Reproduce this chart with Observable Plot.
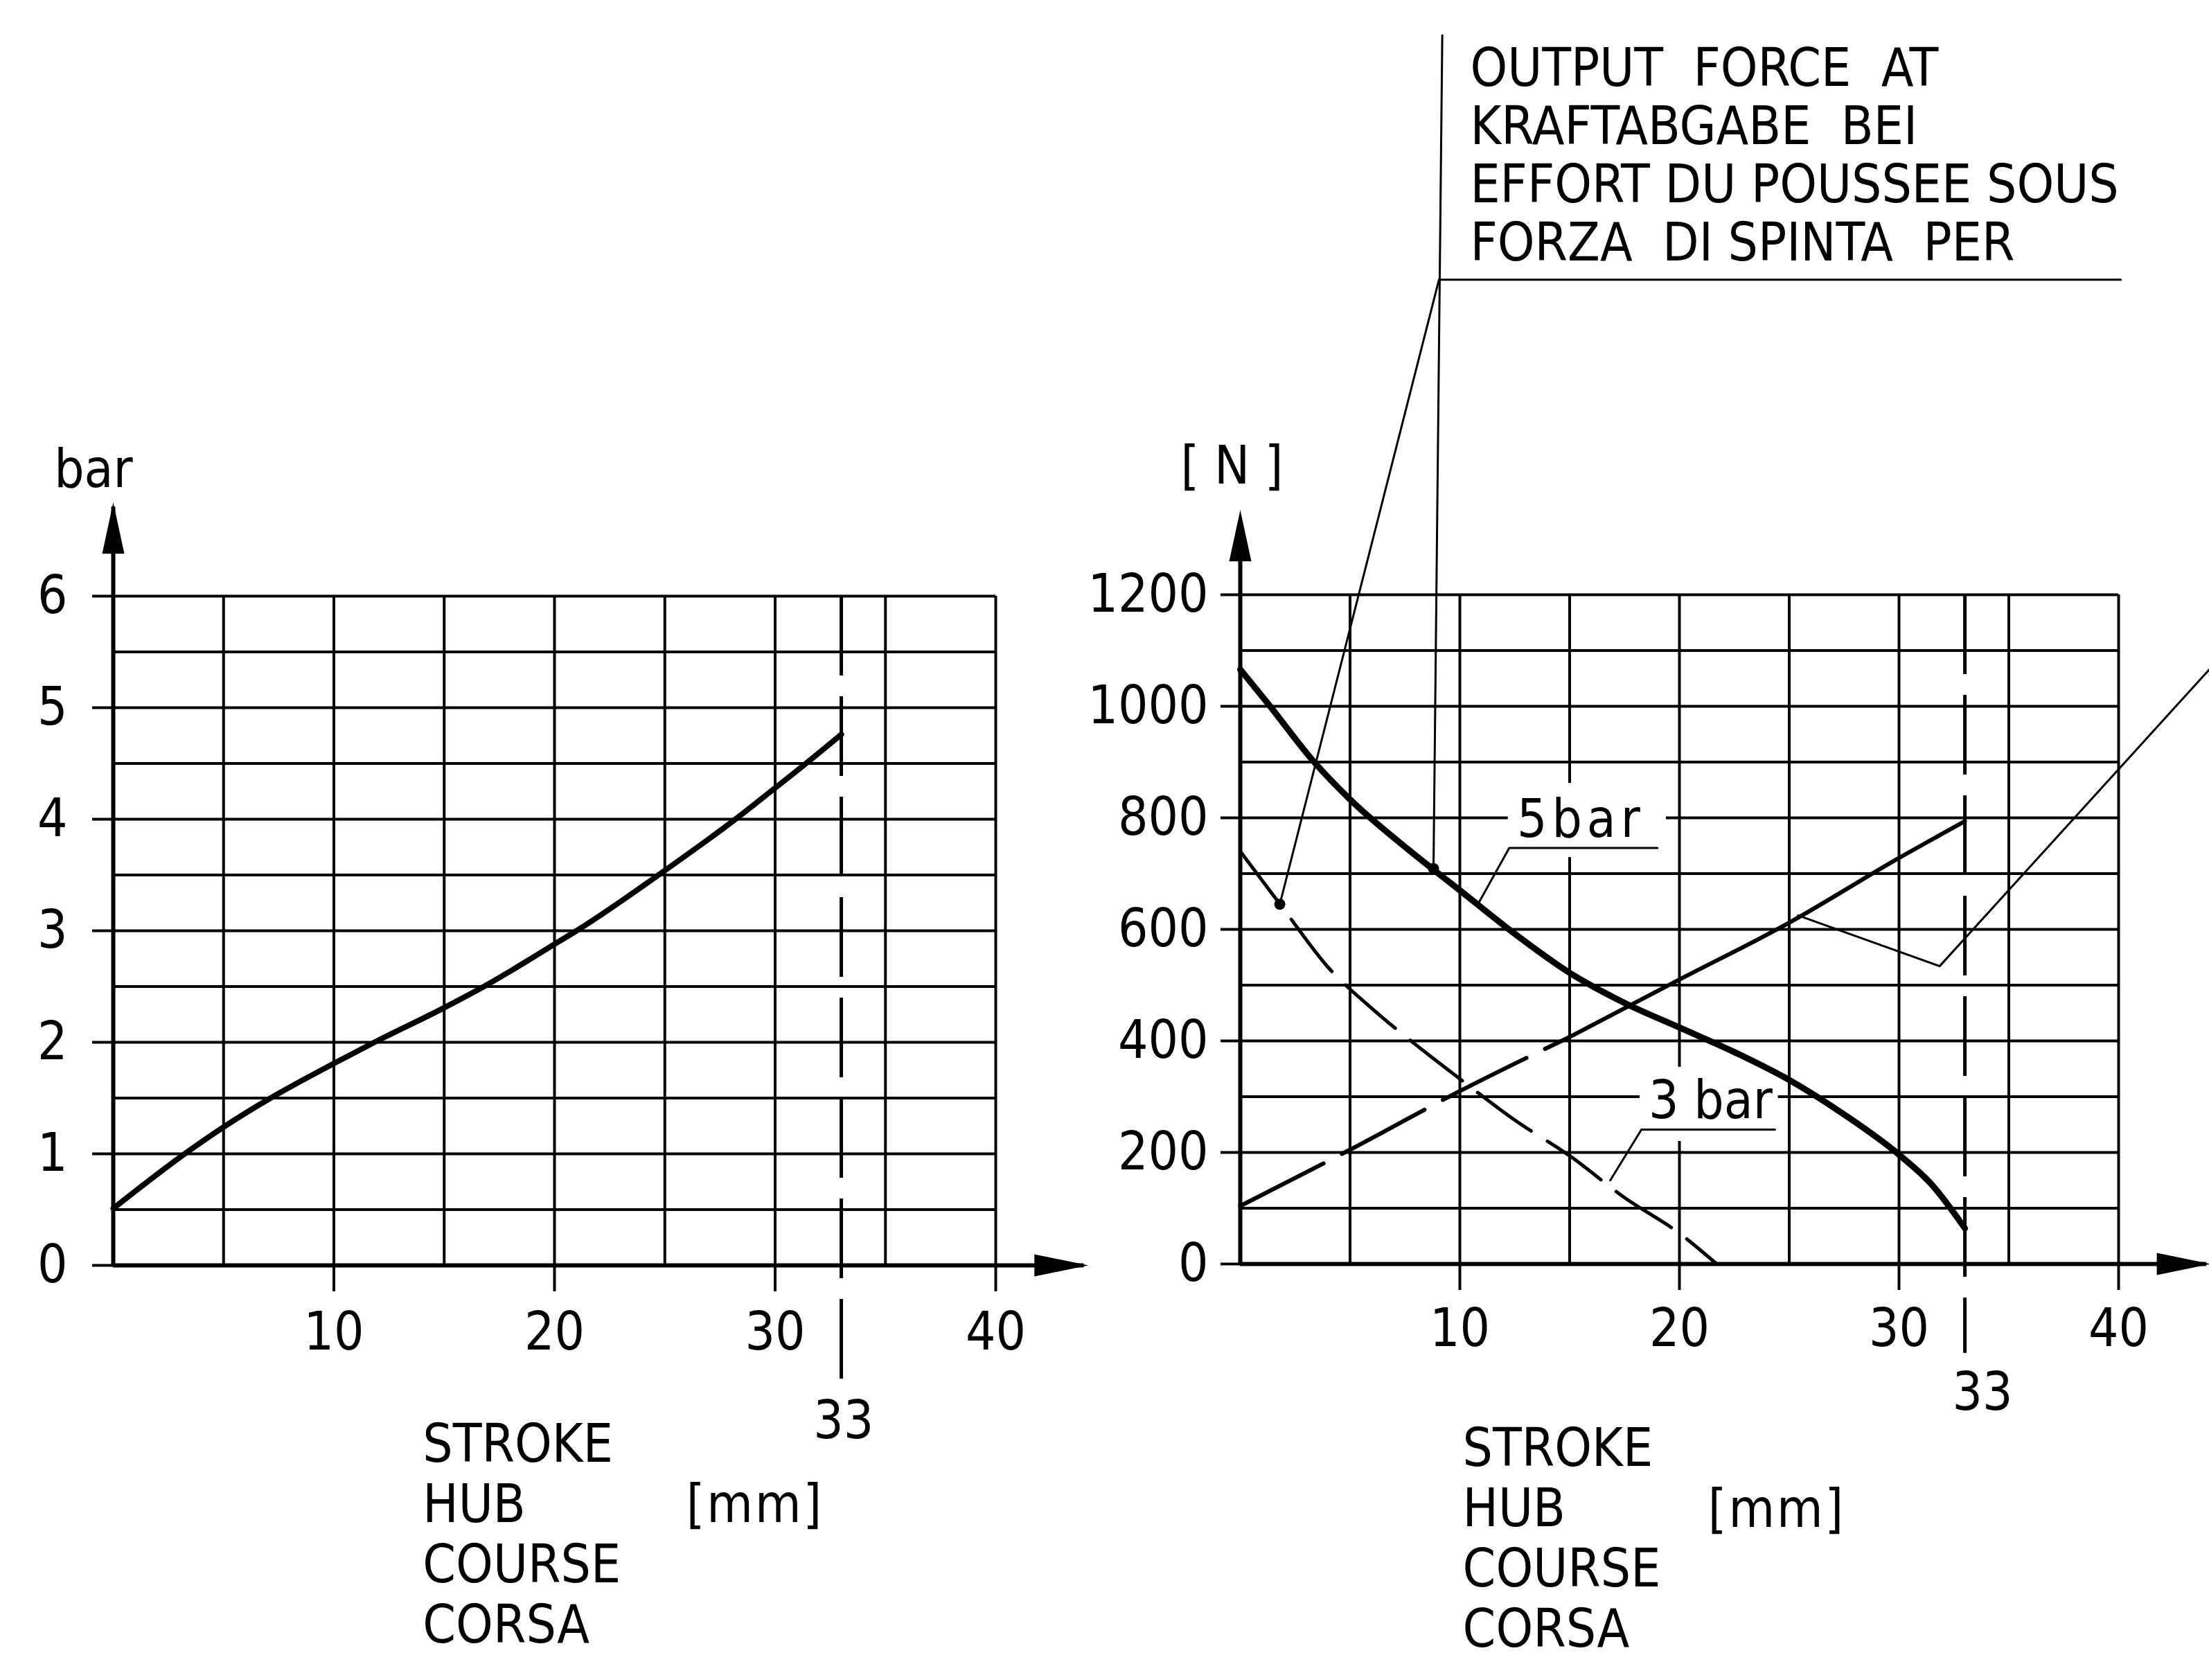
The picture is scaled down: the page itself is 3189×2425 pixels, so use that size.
<!DOCTYPE html>
<html><head><meta charset="utf-8">
<script src="https://cdn.jsdelivr.net/npm/d3@7"></script>
<script src="https://cdn.jsdelivr.net/npm/@observablehq/plot@0.6"></script>
<style>
html,body{margin:0;padding:0;background:#fff;width:3189px;height:2425px;overflow:hidden}
#left,#right{position:absolute;top:0}
#left{left:0}
#right{left:1595px}
svg{max-width:none!important}
svg text{white-space:pre}
</style></head><body>
<div id="left"></div><div id="right"></div>
<script>
const FONT = '"Liberation Sans Narrow","DejaVu Sans Condensed","DejaVu Sans",sans-serif';
const FS = 76;

// ---------- Left chart: pressure [bar] vs stroke [mm] ----------
const strokeMM    = [0, 3.24, 5, 7.13, 10, 11.84, 15, 16.8, 18.1, 20, 21, 25, 28.2, 30, 31.15, 33];
const pressureBar = [0.51, 1.0, 1.24, 1.5, 1.81, 2.0, 2.31, 2.5, 2.65, 2.88, 3.0, 3.54, 4.0, 4.28, 4.46, 4.76];
const leftYTicks  = [0, 1, 2, 3, 4, 5, 6];
const leftYGrid   = [0.5, 1, 1.5, 2, 2.5, 3, 3.5, 4, 4.5, 5, 5.5, 6];
const xGrid       = [5, 10, 15, 20, 25, 30, 35, 40];
const xTicks      = [10, 20, 30, 40];
const strokeEnd   = 33;

// ---------- Right chart: output force [N] vs stroke [mm] ----------
const force5X = [0, 1.3, 3.3, 5, 7.5, 10, 12.5, 15, 17.5, 20, 22.5, 25, 27.5, 30, 31.5, 33];
const force5N = [1066, 1003, 903, 833, 748, 670, 592, 522, 468, 424, 380, 330, 268, 196, 142, 64];
const force3X = [0, 2, 4, 6, 8, 10, 12.5, 15, 17.5, 20, 21.7];
const force3N = [740, 635, 532, 458, 393, 332, 258, 194, 119, 55, 0];
const springX = [0, 5, 10, 15, 20, 25, 30, 33];
const springN = [104, 205, 310, 407, 510, 612, 728, 794];
const rightYTicks = [0, 200, 400, 600, 800, 1000, 1200];
const rightYGrid  = [100, 200, 300, 400, 500, 600, 700, 800, 900, 1000, 1100, 1200];

// ---------- Texts ----------
const titleLines  = ["OUTPUT  FORCE  AT", "KRAFTABGABE  BEI", "EFFORT DU POUSSEE SOUS", "FORZA  DI SPINTA  PER"];
const strokeLines = ["STROKE", "HUB", "COURSE", "CORSA"];
const unitMM  = "[mm]";
const unitBar = "bar";
const unitN   = "[ N ]";
const label5  = "5bar";
const label3  = "3 bar";

// arrowhead symbols (tip at origin, body downwards)
const headY = {draw(c){ c.moveTo(0,0); c.lineTo(16,74); c.lineTo(-16,74); c.closePath(); }};
const headX = {draw(c){ c.moveTo(0,0); c.lineTo(16,78); c.lineTo(-16,78); c.closePath(); }};

const pts = (xs, ys) => xs.map((x, i) => ({x, y: ys[i]}));
const base = {fontFamily: FONT, fontSize: FS + "px", background: "white", color: "black", overflow: "visible"};
const fmt = d3.format("d");

// ---------- LEFT ----------
const leftData = pts(strokeMM, pressureBar);
const left = Plot.plot({
  width: 1595, height: 2425,
  marginLeft: 163, marginRight: 158, marginTop: 860, marginBottom: 599,
  style: base,
  x: {domain: [0, 40], label: null},
  y: {domain: [0, 6], label: null},
  marks: [
    Plot.ruleY(leftYGrid, {x1: 0, x2: 40, stroke: "black", strokeWidth: 4}),
    Plot.ruleX(xGrid, {y1: 0, y2: 6, stroke: "black", strokeWidth: 4}),
    Plot.ruleX([strokeEnd], {y1: 6, y2: -1.04, stroke: "black", strokeWidth: 5, strokeDasharray: "115,30"}),
    Plot.axisY({ticks: leftYTicks, tickFormat: fmt, tickSize: 30, tickPadding: 36, strokeWidth: 4, fontSize: FS, label: null}),
    Plot.axisX({ticks: xTicks, tickFormat: fmt, tickSize: 38, tickPadding: 30, strokeWidth: 4, fontSize: FS, label: null}),
    Plot.ruleX([0], {y1: 0, y2: 6.8, stroke: "black", strokeWidth: 6}),
    Plot.ruleY([0], {x1: 0, x2: 44, stroke: "black", strokeWidth: 6}),
    Plot.dot([{x: 0, y: 6.84}], {x: "x", y: "y", symbol: headY, r: 10, fill: "black", stroke: null}),
    Plot.dot([{x: 44.2, y: 0}], {x: "x", y: "y", symbol: headX, rotate: 90, r: 10, fill: "black", stroke: null}),
    Plot.line(leftData, {x: "x", y: "y", stroke: "black", strokeWidth: 8, curve: "monotone-x"}),
    Plot.text([unitBar], {x: -0.9, y: 6.98, text: d => d, textAnchor: "middle", lineAnchor: "bottom", fontSize: FS}),
    Plot.text([String(strokeEnd)], {x: 33.1, y: -1.55, text: d => d, textAnchor: "middle", lineAnchor: "bottom", fontSize: FS}),
    Plot.text([strokeLines.join("\n")], {x: 14.03, y: -3.38, text: d => d, textAnchor: "start", lineAnchor: "bottom", lineHeight: 1.145, fontSize: FS}),
    Plot.text([unitMM], {x: 25.97, y: -2.30, text: d => d, textAnchor: "start", lineAnchor: "bottom", fontSize: FS, className: "sp3"})
  ]
});
document.getElementById("left").append(left);

// ---------- RIGHT ----------
const f5 = pts(force5X, force5N);
const f3 = pts(force3X, force3N);
const sp = pts(springX, springN);
const spDash  = sp.filter(d => d.x <= 15);
const spSolid = sp.filter(d => d.x >= 15);

const right = Plot.plot({
  width: 1594, height: 2425,
  marginLeft: 195, marginRight: 131, marginTop: 858, marginBottom: 601,
  style: base,
  x: {domain: [0, 40], label: null},
  y: {domain: [0, 1200], label: null},
  marks: [
    Plot.ruleY(rightYGrid, {x1: 0, x2: 40, stroke: "black", strokeWidth: 4}),
    Plot.ruleX(xGrid, {y1: 0, y2: 1200, stroke: "black", strokeWidth: 4}),
    Plot.ruleX([strokeEnd], {y1: 1200, y2: -160, stroke: "black", strokeWidth: 5, strokeDasharray: "115,30"}),
    // white boxes behind the curve labels
    Plot.rect([label5], {x1: 12.2, x2: 19.4, y1: 729, y2: 862, fill: "white"}),
    Plot.rect([label3], {x1: 18.2, x2: 24.5, y1: 220, y2: 353, fill: "white"}),
    Plot.axisY({ticks: rightYTicks, tickFormat: fmt, tickSize: 28, tickPadding: 18, strokeWidth: 4, fontSize: FS, label: null}),
    Plot.axisX({ticks: xTicks, tickFormat: fmt, tickSize: 38, tickPadding: 27, strokeWidth: 4, fontSize: FS, label: null}),
    Plot.ruleX([0], {y1: 0, y2: 1330, stroke: "black", strokeWidth: 6}),
    Plot.ruleY([0], {x1: 0, x2: 44, stroke: "black", strokeWidth: 6}),
    Plot.dot([{x: 0, y: 1352}], {x: "x", y: "y", symbol: headY, r: 10, fill: "black", stroke: null}),
    Plot.dot([{x: 44.2, y: 0}], {x: "x", y: "y", symbol: headX, rotate: 90, r: 10, fill: "black", stroke: null}),
    // curves
    Plot.line(spDash, {x: "x", y: "y", stroke: "black", strokeWidth: 6, strokeDasharray: "135,30", curve: "monotone-x"}),
    Plot.line(spSolid, {x: "x", y: "y", stroke: "black", strokeWidth: 6, curve: "monotone-x"}),
    Plot.line(f3, {x: "x", y: "y", stroke: "black", strokeWidth: 5, strokeDasharray: "95,28", curve: "monotone-x"}),
    Plot.line(f5, {x: "x", y: "y", stroke: "black", strokeWidth: 9, curve: "monotone-x"}),
    // leaders
    Plot.line([{x: 9.2, y: 2203}, {x: 8.8, y: 709}], {x: "x", y: "y", stroke: "black", strokeWidth: 3}),
    Plot.line([{x: 9.05, y: 1765}, {x: 40.1, y: 1765}], {x: "x", y: "y", stroke: "black", strokeWidth: 3}),
    Plot.line([{x: 9.05, y: 1765}, {x: 1.8, y: 645}], {x: "x", y: "y", stroke: "black", strokeWidth: 3}),
    Plot.line([{x: 46, y: 1147}, {x: 31.85, y: 534}, {x: 25.4, y: 625}], {x: "x", y: "y", stroke: "black", strokeWidth: 3}),
    Plot.dot([{x: 1.8, y: 645}, {x: 8.8, y: 709}], {x: "x", y: "y", r: 8, fill: "black", stroke: null}),
    Plot.line([{x: 19.0, y: 746}, {x: 12.25, y: 746}, {x: 10.78, y: 642}], {x: "x", y: "y", stroke: "black", strokeWidth: 3}),
    Plot.line([{x: 24.35, y: 241}, {x: 18.27, y: 241}, {x: 16.85, y: 150}], {x: "x", y: "y", stroke: "black", strokeWidth: 3}),
    // labels
    Plot.text([label5], {x: 12.6, y: 766, text: d => d, textAnchor: "start", lineAnchor: "bottom", fontSize: FS, fill: "black", className: "sp7"}),
    Plot.text([label3], {x: 18.6, y: 262, text: d => d, textAnchor: "start", lineAnchor: "bottom", fontSize: FS, fill: "black"}),
    Plot.text([unitN], {x: -0.38, y: 1399, text: d => d, textAnchor: "middle", lineAnchor: "bottom", fontSize: FS}),
    Plot.text([String(strokeEnd)], {x: 33.8, y: -261, text: d => d, textAnchor: "middle", lineAnchor: "bottom", fontSize: FS}),
    Plot.text([titleLines.join("\n")], {x: 10.47, y: 1799, text: d => d, textAnchor: "start", lineAnchor: "bottom", lineHeight: 1.105, fontSize: FS}),
    Plot.text([strokeLines.join("\n")], {x: 10.13, y: -686, text: d => d, textAnchor: "start", lineAnchor: "bottom", lineHeight: 1.145, fontSize: FS}),
    Plot.text([unitMM], {x: 21.3, y: -471, text: d => d, textAnchor: "start", lineAnchor: "bottom", fontSize: FS, className: "sp3"})
  ]
});
document.getElementById("right").append(right);

for (const s of [3, 7]) d3.selectAll(".sp" + s + " text").attr("letter-spacing", s + "px");
</script>
</body></html>
